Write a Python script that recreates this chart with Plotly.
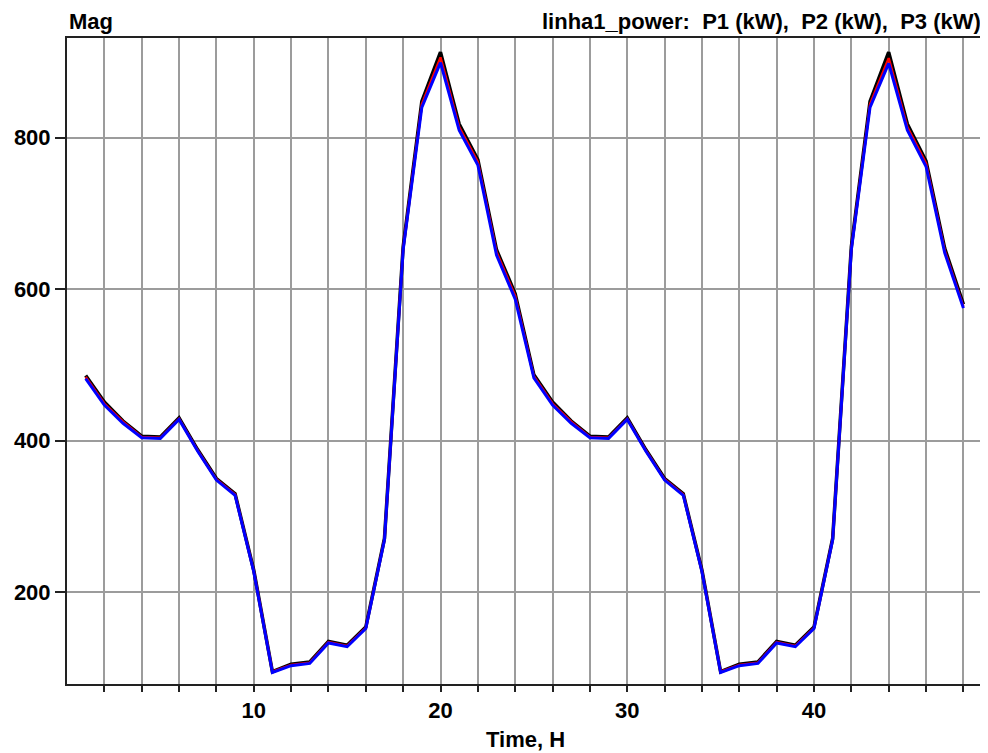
import plotly.graph_objects as go

hours = list(range(1, 49))

p1_kw = [486, 451, 426, 406, 405, 430, 388, 350, 330, 229, 95, 105, 108, 135, 130, 154,
         271, 656, 848, 913, 818, 771, 652, 594, 487, 451, 426, 406, 405, 430, 388, 350,
         330, 229, 95, 105, 108, 135, 130, 154, 271, 656, 848, 913, 818, 769, 654, 580]
p2_kw = [484, 449, 425, 405, 404, 429, 387, 349, 329, 228, 95, 104, 107, 134, 129, 153,
         270, 654, 844, 906, 814, 768, 649, 591, 485, 449, 425, 405, 404, 429, 387, 349,
         329, 228, 95, 104, 107, 134, 129, 153, 270, 654, 844, 905, 814, 766, 651, 577]
p3_kw = [482, 447, 423, 404, 403, 428, 386, 348, 328, 227, 94, 103, 106, 133, 128, 152,
         269, 652, 840, 899, 810, 764, 645, 587, 483, 447, 423, 404, 403, 428, 386, 348,
         328, 227, 94, 103, 106, 133, 128, 152, 269, 652, 840, 898, 810, 762, 648, 575]

x_ticks = list(range(2, 49, 2))
x_tick_text = [str(v) if v % 10 == 0 else "" for v in x_ticks]
y_ticks = [200, 400, 600, 800]
y_tick_text = ["200", "400", "600", "800"]

FONT = "Liberation Sans"

fig = go.Figure()
fig.add_trace(go.Scatter(x=hours, y=p1_kw, mode="lines", name="P1 (kW)",
                         line=dict(color="#000000", width=3.5)))
fig.add_trace(go.Scatter(x=hours, y=p2_kw, mode="lines", name="P2 (kW)",
                         line=dict(color="#ff0000", width=2.5)))
fig.add_trace(go.Scatter(x=hours, y=p3_kw, mode="lines", name="P3 (kW)",
                         line=dict(color="#0000ff", width=3)))

fig.update_layout(
    width=980, height=745,
    margin=dict(l=59, r=3, t=30, b=69),
    paper_bgcolor="white", plot_bgcolor="white",
    showlegend=False,
    font=dict(family=FONT, size=22, color="black", weight=700),
    xaxis=dict(range=[0, 49.05], tickmode="array", tickvals=x_ticks, ticktext=x_tick_text,
               ticks="outside", ticklen=6, tickwidth=1.5, tickcolor="#222",
               showgrid=True, gridcolor="#9c9c9c", gridwidth=1.6,
               showline=True, linecolor="#222", linewidth=2, mirror=True,
               zeroline=False,
               tickfont=dict(family=FONT, size=22, color="black", weight=700)),
    yaxis=dict(range=[78.8, 931.6], tickmode="array", tickvals=y_ticks, ticktext=y_tick_text,
               ticks="outside", ticklen=10, tickwidth=1.5, tickcolor="#222",
               showgrid=True, gridcolor="#9c9c9c", gridwidth=1.6,
               showline=True, linecolor="#222", linewidth=2, mirror=True,
               zeroline=False,
               tickfont=dict(family=FONT, size=22, color="black", weight=700)),
    annotations=[
        dict(text="Mag", xref="paper", yref="paper", x=0, y=1, xanchor="left",
             yanchor="bottom", showarrow=False, yshift=2,
             font=dict(family=FONT, size=22, color="black", weight=700)),
        dict(text="linha1_power:  P1 (kW),  P2 (kW),  P3 (kW)", xref="paper", yref="paper",
             x=1, y=1, xanchor="right", yanchor="bottom", showarrow=False, yshift=2,
             font=dict(family=FONT, size=22, color="black", weight=700)),
        dict(text="Time, H", xref="paper", yref="paper", x=0.5, y=-0.0913,
             xanchor="center", yanchor="middle", showarrow=False, yshift=3,
             font=dict(family=FONT, size=22, color="black", weight=700)),
    ],
)

fig.write_html("out.html")
